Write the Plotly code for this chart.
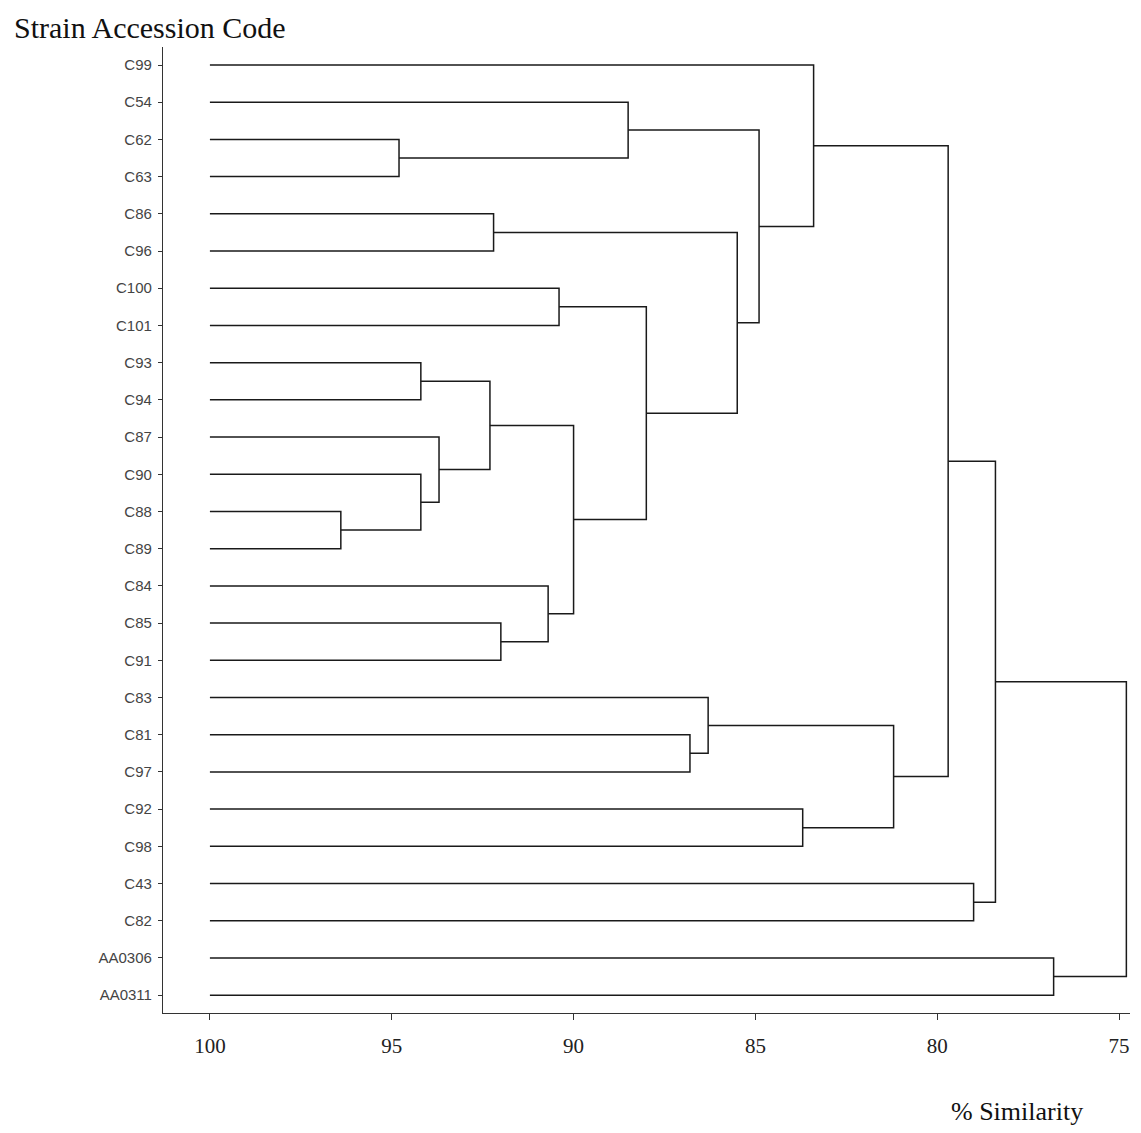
import plotly.graph_objects as go

# ---- data ----
leaves = ["C99", "C54", "C62", "C63", "C86", "C96", "C100", "C101", "C93", "C94",
          "C87", "C90", "C88", "C89", "C84", "C85", "C91", "C83", "C81", "C97",
          "C92", "C98", "C43", "C82", "AA0306", "AA0311"]

node_names = ["n1", "n2", "n3", "n4", "n5", "n6", "n7", "n8", "n9", "n10", "n11", "n12", "n13",
              "n14", "n15", "n16", "n17", "n18", "n19", "n20", "n21", "n22", "n23", "n24", "n25"]
left_child = ["C62", "C54", "C86", "C100", "C93", "C88", "C90", "C87", "n5", "C85", "C84", "n9", "n4",
              "n3", "n2", "C99", "C81", "C83", "C92", "n18", "n16", "C43", "n21", "AA0306", "n23"]
right_child = ["C63", "n1", "C96", "C101", "C94", "C89", "n6", "n7", "n8", "C91", "n10", "n11", "n12",
               "n13", "n14", "n15", "C97", "n17", "C98", "n19", "n20", "C82", "n22", "AA0311", "n24"]
similarity = [94.8, 88.5, 92.2, 90.4, 94.2, 96.4, 94.2, 93.7, 92.3, 92.0, 90.7, 90.0, 88.0,
              85.5, 84.9, 83.4, 86.8, 86.3, 83.7, 81.2, 79.7, 79.0, 78.4, 76.8, 74.8]

leaf_similarity = 100
x_ticks = [100, 95, 90, 85, 80, 75]

# ---- build dendrogram segments ----
pos_y = {name: i for i, name in enumerate(leaves)}
pos_x = {name: leaf_similarity for name in leaves}
xs, ys = [], []
for name, a, b, s in zip(node_names, left_child, right_child, similarity):
    ya, yb = pos_y[a], pos_y[b]
    xa, xb = pos_x[a], pos_x[b]
    xs += [xa, s, s, xb, None]
    ys += [ya, ya, yb, yb, None]
    pos_y[name] = (ya + yb) / 2
    pos_x[name] = s

fig = go.Figure()
fig.add_trace(go.Scatter(x=xs, y=ys, mode="lines", cliponaxis=False,
                         line=dict(color="#1a1a1a", width=1.5), hoverinfo="skip",
                         showlegend=False))

fig.update_layout(
    width=1133, height=1125,
    margin=dict(l=155, r=11, t=39, b=120),
    paper_bgcolor="white", plot_bgcolor="white",
    showlegend=False,
    xaxis=dict(range=[101.29, 74.7], tickvals=x_ticks, ticktext=[str(v) for v in x_ticks],
               showgrid=False, zeroline=False, showline=True, linecolor="#333", linewidth=1.2,
               ticks="outside", ticklen=6, tickcolor="#333", tickwidth=1,
               ticklabelstandoff=8,
               tickfont=dict(family="Liberation Serif, Times New Roman, serif", size=21, color="#222")),
    yaxis=dict(range=[25.48, -0.484], tickvals=list(range(len(leaves))), ticktext=leaves,
               showgrid=False, zeroline=False, showline=True, linecolor="#333", linewidth=1.2,
               ticks="outside", ticklen=4, tickcolor="#333", tickwidth=1,
               ticklabelstandoff=3,
               tickfont=dict(family="Liberation Sans, Arial, sans-serif", size=15, color="#444")),
    annotations=[
        dict(text="Strain Accession Code", xref="paper", yref="paper",
             x=-0.1562, y=1.0395, xanchor="left", yanchor="top", showarrow=False,
             font=dict(family="Liberation Serif, Times New Roman, serif", size=30, color="#111")),
        dict(text="% Similarity", xref="paper", yref="paper",
             x=0.8831, y=-0.102, xanchor="center", yanchor="middle", showarrow=False,
             font=dict(family="Liberation Serif, Times New Roman, serif", size=26, color="#111")),
    ],
)

fig.write_html("out.html")
